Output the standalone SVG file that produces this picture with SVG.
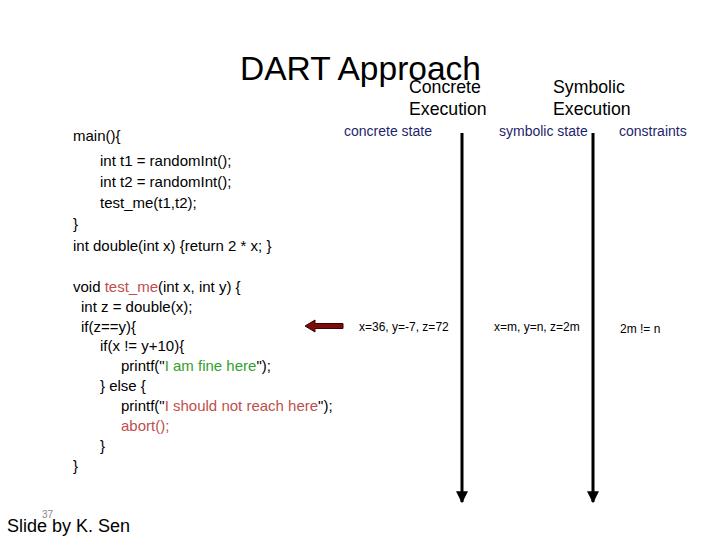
<svg xmlns="http://www.w3.org/2000/svg" width="720" height="540" viewBox="0 0 720 540">
<defs>
<style>
text{font-family:"Liberation Sans",Arial,sans-serif;fill:#000}
.code{font-size:15px}
.red{fill:#c0504d}
.grn{fill:#33a02c}
.hdr{font-size:17.7px}
.sub{font-size:14px;fill:#1f1f6b}
.val{font-size:12px}
.tl{stroke:#000;stroke-width:3}
</style>
<marker id="ah" viewBox="0 0 10 10" refX="9" refY="5" markerWidth="4" markerHeight="4" orient="auto" markerUnits="strokeWidth">
<path d="M0,0 L10,5 L0,10 z" fill="#000"/>
</marker>
</defs>
<rect width="720" height="540" fill="#fff"/>
<g id="title">
<text x="240" y="80" font-size="33" textLength="241" lengthAdjust="spacingAndGlyphs">DART Approach</text>
</g>
<g id="headers">
<text class="hdr" x="409" y="93">Concrete</text>
<text class="hdr" x="409" y="115">Execution</text>
<text class="hdr" x="553" y="93">Symbolic</text>
<text class="hdr" x="553" y="115">Execution</text>
<text class="sub" x="344" y="136">concrete state</text>
<text class="sub" x="499" y="136">symbolic state</text>
<text class="sub" x="619" y="136">constraints</text>
</g>
<g id="code1">
<text class="code" x="73" y="141">main(){</text>
<text class="code" x="100" y="166">int t1 = randomInt();</text>
<text class="code" x="100" y="187">int t2 = randomInt();</text>
<text class="code" x="100" y="208">test_me(t1,t2);</text>
<text class="code" x="73" y="229">}</text>
<text class="code" x="73" y="251">int double(int x) {return 2 * x; }</text>
</g>
<g id="code2">
<text class="code" x="73" y="292">void <tspan class="red">test_me</tspan>(int x, int y) {</text>
<text class="code" x="81" y="312">int z = double(x);</text>
<text class="code" x="81" y="332">if(z==y){</text>
<text class="code" x="100" y="351">if(x != y+10){</text>
<text class="code" x="121" y="371">printf("<tspan class="grn">I am fine here</tspan>");</text>
<text class="code" x="100" y="391">} else {</text>
<text class="code" x="121" y="411">printf("<tspan class="red">I should not reach here</tspan>");</text>
<text class="code red" x="121" y="431">abort();</text>
<text class="code" x="100" y="451">}</text>
<text class="code" x="73" y="471">}</text>
</g>
<g id="connectors">
<line class="tl" x1="462" y1="133" x2="462" y2="502" marker-end="url(#ah)"/>
<line class="tl" x1="593" y1="133" x2="593" y2="502" marker-end="url(#ah)"/>
<path d="M343,323.5 L315,323.5 L315,320 L305,326 L315,332 L315,328.5 L343,328.5 z" fill="#7a0c0c" stroke="#3a0505" stroke-width="1"/>
</g>
<g id="values">
<text class="val" x="359" y="331">x=36, y=-7, z=72</text>
<text class="val" x="494" y="331">x=m, y=n, z=2m</text>
<text class="val" x="620" y="333">2m != n</text>
</g>
<g id="footer">
<text x="42" y="518" font-size="10" style="fill:#888">37</text>
<text x="7" y="532" font-size="18">Slide by K. Sen</text>
</g>
</svg>
